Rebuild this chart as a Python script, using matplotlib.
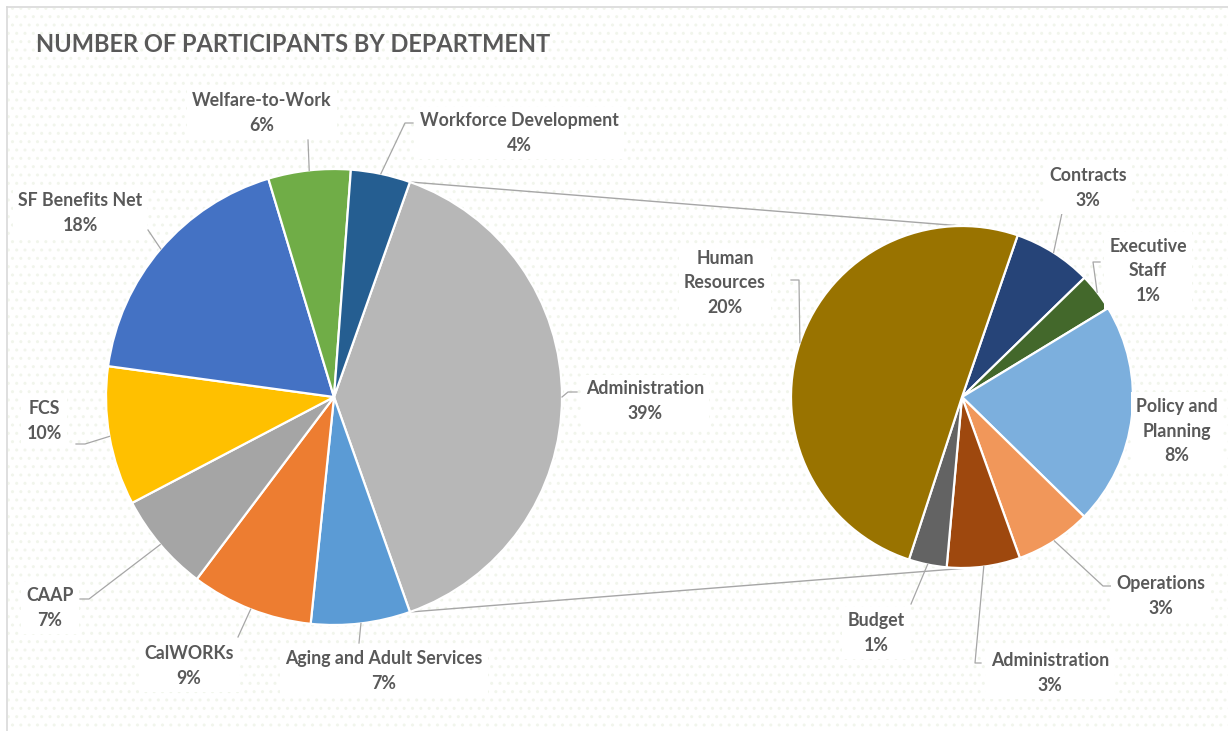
import numpy as np
import matplotlib
matplotlib.use("Agg")
import matplotlib.pyplot as plt
from matplotlib.patches import Rectangle

# ---------------- data ----------------
main_labels = ["Administration", "Aging and Adult Services", "CalWORKs", "CAAP",
               "FCS", "SF Benefits Net", "Welfare-to-Work", "Workforce Development"]
main_values = [39.0, 7.0, 8.6, 7.0, 9.8, 18.1, 5.8, 4.2]
main_colors = ["#B7B7B7", "#5B9BD5", "#ED7D31", "#A5A5A5",
               "#FFC000", "#4472C4", "#70AD47", "#255E91"]

sub_labels = ["Contracts", "Executive\nStaff", "Policy and\nPlanning", "Operations",
              "Administration", "Budget", "Human\nResources"]
sub_values = [2.9, 1.4, 8.2, 2.8, 2.7, 1.4, 19.6]
sub_colors = ["#264478", "#43682B", "#7CAFDD", "#F1975A",
              "#9E480E", "#636363", "#997300"]

title = "NUMBER OF PARTICIPANTS BY DEPARTMENT"

# ---------------- layout ----------------
W, H = 1228, 731
fig = plt.figure(figsize=(W / 100, H / 100), dpi=100)
ax = fig.add_axes([0, 0, 1, 1])

TXT = "#595959"
LINE = "#A6A6A6"
FONT = ["Lato", "DejaVu Sans"]

# background with faint dots
bg = Rectangle((8, 8), W, H, facecolor="white", edgecolor="#F1F5EC",
               hatch="..", linewidth=0, zorder=0)
ax.add_patch(bg)
ax.plot([7, 7], [7, H], color="#D9D9D9", lw=1.2, zorder=1)
ax.plot([7, W], [7, 7], color="#D9D9D9", lw=1.2, zorder=1)

main_c, main_r = (334, 397), 228
sub_c, sub_r = (962, 397), 171

total = sum(main_values)
admin_span = 360 * main_values[0] / sum(main_values)

# y axis inverted below -> counterclock=True in data is clockwise on screen
wm, _ = ax.pie(main_values, colors=main_colors, startangle=-admin_span / 2,
               counterclock=True, center=main_c, radius=main_r,
               wedgeprops=dict(edgecolor="white", linewidth=1.6))
ws, _ = ax.pie(sub_values, colors=sub_colors, startangle=-71.0,
               counterclock=True, center=sub_c, radius=sub_r,
               wedgeprops=dict(edgecolor="white", linewidth=1.6))
for w in wm + ws:
    w.set_zorder(3)

ax.set_xlim(0, W)
ax.set_ylim(H, 0)
ax.set_aspect("equal")
ax.axis("off")


def edge_point(wedge, center, r):
    a = np.deg2rad((wedge.theta1 + wedge.theta2) / 2)
    return center[0] + r * np.cos(a), center[1] + r * np.sin(a)


# connector lines from the Administration slice to the secondary pie
a1 = np.deg2rad(wm[0].theta1)
a2 = np.deg2rad(wm[0].theta2)
p_top = (main_c[0] + main_r * np.cos(a1), main_c[1] + main_r * np.sin(a1))
p_bot = (main_c[0] + main_r * np.cos(a2), main_c[1] + main_r * np.sin(a2))
ax.plot([p_top[0], sub_c[0]], [p_top[1], sub_c[1] - sub_r], color=LINE, lw=1.0, zorder=2)
ax.plot([p_bot[0], sub_c[0] + 6], [p_bot[1], sub_c[1] + sub_r], color=LINE, lw=1.0, zorder=2)

# label positions (text centre) and leader elbows
main_pos = [(645, 401), (384, 671), (189, 666), (50, 608),
            (44, 421), (80, 213), (262, 113), (519, 133)]
main_lead = [[(568, 392), (577, 392)], [(359, 643)], [(238, 637)],
             [(89, 599), (80, 599)], [(85, 444), (76, 444)], [(148, 230)],
             [(308, 140)], [(405, 123), (413, 123)]]

sub_pos = [(1088, 188), (1148, 271), (1177, 431), (1161, 596),
           (1050, 673), (876, 633), (725, 283)]
sub_lead = [[(1062, 213)], [(1093, 262), (1100, 262)], [],
            [(1103, 586), (1112, 586)], [(975, 663), (981, 663)],
            [(911, 604)], [(799, 280), (791, 280)]]


def draw_labels(wedges, labels, values, center, r, pos, leads):
    for w, lab, v, p, ld in zip(wedges, labels, values, pos, leads):
        if ld:
            e = edge_point(w, center, r)
            xs = [e[0]] + [q[0] for q in ld]
            ys = [e[1]] + [q[1] for q in ld]
            ax.plot(xs, ys, color=LINE, lw=0.9, zorder=4)
        pct = f"{round(v / total * 100)}%"
        ax.text(p[0], p[1], f"{lab}\n{pct}", ha="center", va="center",
                fontsize=12.8, fontweight="bold", color=TXT, family=FONT,
                linespacing=1.55, zorder=5,
                bbox=dict(boxstyle="square,pad=0.3", fc="white", ec="none"))


draw_labels(wm, main_labels, main_values, main_c, main_r, main_pos, main_lead)
draw_labels(ws, sub_labels, sub_values, sub_c, sub_r, sub_pos, sub_lead)

ax.text(36, 45, title, ha="left", va="center", fontsize=17, fontweight="bold",
        color=TXT, family=FONT, zorder=5)

fig.savefig("out.png", dpi=100)
